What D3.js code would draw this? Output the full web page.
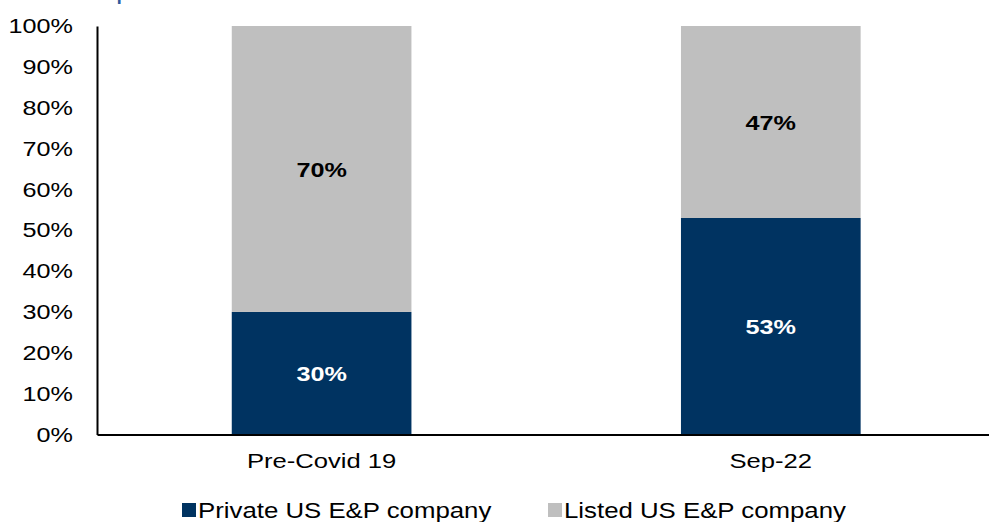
<!DOCTYPE html>
<html>
<head>
<meta charset="utf-8">
<script src="https://cdn.jsdelivr.net/npm/d3@7"></script>
<style>
  body { margin: 0; background: #fff; }
  svg { font-family: "Liberation Sans", Arial, sans-serif; display: block; }
</style>
</head>
<body>
<div id="chart"></div>
<script>
// data
const categories = ['Pre-Covid 19', 'Sep-22']
const privateShare = [0.30, 0.53]
const listedShare = [0.70, 0.47]
const seriesNames = ['Private US E&P company', 'Listed US E&P company']
const yTicks = [0, 0.1, 0.2, 0.3, 0.4, 0.5, 0.6, 0.7, 0.8, 0.9, 1.0]

const width = 989, height = 522
const colors = ['#003361', '#bfbfbf']
const sx = 1.2 // source picture is stretched horizontally
const fs = 21

const svg = d3.select('#chart').append('svg')
  .attr('width', width)
  .attr('height', height)

// cut-off title glyph at the very top
svg.append('text')
  .attr('transform', 'translate(116,-1) scale(1.2,1)')
  .attr('font-size', 24)
  .attr('fill', '#2f5a9e')
  .text('p')

const x = d3.scaleBand()
  .domain(categories)
  .range([97, 995.4])
  .paddingInner(0.6)
  .paddingOuter(0.3)

const y = d3.scaleLinear()
  .domain([0, 1])
  .range([434.5, 26])

// stacked rows
const rows = categories.map((c, i) => ({ cat: c, priv: privateShare[i], listed: listedShare[i] }))
const stack = d3.stack().keys(['priv', 'listed'])(rows)

svg.append('g').selectAll('g')
  .data(stack)
  .join('g')
    .attr('fill', (d, i) => colors[i])
  .selectAll('rect')
  .data(d => d)
  .join('rect')
    .attr('x', d => x(d.data.cat))
    .attr('width', x.bandwidth())
    .attr('y', d => y(d[1]))
    .attr('height', d => y(d[0]) - y(d[1]))

// value labels
stack.forEach((layer, li) => {
  svg.append('g').selectAll('text')
    .data(layer)
    .join('text')
      .attr('transform', d => `translate(${x(d.data.cat) + x.bandwidth() / 2},${(y(d[0]) + y(d[1])) / 2}) scale(${sx},1)`)
      .attr('text-anchor', 'middle')
      .attr('dy', '0.36em')
      .attr('font-size', fs)
      .attr('font-weight', 'bold')
      .attr('fill', li === 0 ? '#fff' : '#000')
      .text(d => Math.round((d[1] - d[0]) * 100) + '%')
})

// y axis
const yAxis = svg.append('g')
  .attr('transform', 'translate(97,0)')
  .call(d3.axisLeft(y).tickValues(yTicks).tickSize(0).tickFormat(d3.format('.0%')))
yAxis.select('.domain').attr('stroke', '#000').attr('stroke-width', 2)
yAxis.selectAll('text')
  .attr('font-size', fs)
  .attr('fill', '#000')
  .attr('font-family', null)
  .attr('x', -24 / sx)
  .attr('transform', `scale(${sx},1)`)

// x axis
const xAxis = svg.append('g')
  .attr('transform', 'translate(0,434.5)')
  .call(d3.axisBottom(x).tickSize(0).tickSizeOuter(0))
xAxis.select('.domain').attr('stroke', '#000').attr('stroke-width', 2)
xAxis.selectAll('text')
  .attr('font-size', fs)
  .attr('fill', '#000')
  .attr('font-family', null)
  .attr('y', 34)
  .attr('dy', 0)
  .attr('transform', `scale(1.22,1)`)

// legend
const legendX = [182, 548]
const legend = svg.append('g').selectAll('g')
  .data(seriesNames)
  .join('g')
    .attr('transform', (d, i) => `translate(${legendX[i]},503)`)
legend.append('rect')
  .attr('width', 14)
  .attr('height', 14)
  .attr('fill', (d, i) => colors[i])
legend.append('text')
  .attr('transform', `translate(16,14.5) scale(1.2,1)`)
  .attr('font-size', 21.5)
  .attr('fill', '#000')
  .text(d => d)
</script>
</body>
</html>
